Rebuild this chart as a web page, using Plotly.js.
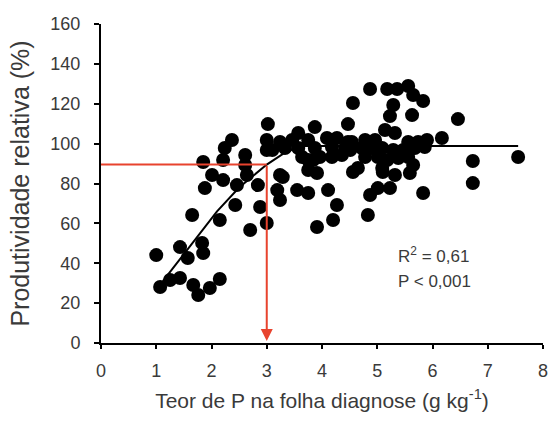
<!DOCTYPE html>
<html>
<head>
<meta charset="utf-8">
<script src="https://cdn.plot.ly/plotly-3.0.1.min.js"></script>
<style>html,body{margin:0;padding:0;background:#fff;}#chart{width:550px;height:421px;}</style>
</head>
<body>
<div id="chart"></div>
<script>
// Observed points: P leaf content (g/kg) and relative yield (%)
const teorP = [
  1.00,1.07,1.25,1.43,1.67,1.76,1.97,2.15,1.43,1.57,1.83,1.85,1.65,2.15,2.70,2.43,2.88,3.00,
  1.88,2.01,2.21,2.46,2.64,2.84,1.85,2.21,2.61,2.61,2.37,2.24,3.02,3.00,3.00,
  3.19,3.24,3.24,3.55,3.75,3.91,3.75,3.91,3.29,4.11,4.27,4.20,4.56,5.10,4.87,5.01,5.23,4.83,
  5.83,6.73,6.73,7.55,6.46,6.17,5.59,5.65,4.65,5.32,
  3.24,3.46,3.57,3.75,3.87,4.09,4.27,4.47,4.47,3.10,3.33,3.57,3.87,4.18,4.42,3.64,3.75,3.96,4.18,4.36,
  5.23,5.63,5.14,5.32,4.54,4.78,4.96,5.56,5.74,5.90,4.51,4.72,4.90,5.09,5.29,5.47,5.68,5.86,
  4.78,5.01,5.18,5.38,5.56,5.09,
  4.87,5.18,5.36,5.56,5.65,5.83,4.56,5.29,3.84
];
const produtividade = [
  44.1,28.1,31.6,32.6,29.1,24.1,27.6,32.1,48.1,42.6,50.2,45.1,64.2,61.7,56.7,69.2,68.2,60.2,
  77.7,84.3,81.7,79.2,84.3,79.2,90.8,91.8,94.3,89.3,101.8,97.8,109.8,101.8,96.8,
  76.7,84.3,71.7,76.7,75.2,58.2,86.8,85.3,83.2,76.7,69.2,61.7,85.8,85.8,74.2,77.7,77.7,64.2,
  75.2,80.2,91.3,93.3,112.3,102.8,85.3,89.3,87.8,84.3,
  100.8,101.8,105.3,101.8,108.3,102.8,102.8,100.8,109.8,96.8,97.8,97.8,97.8,98.3,97.8,93.3,91.8,93.3,93.3,94.3,
  113.8,114.3,106.8,105.3,100.8,101.8,101.8,100.8,100.8,101.8,96.8,97.8,97.8,97.8,96.8,96.8,97.8,98.3,
  93.3,93.3,91.8,92.8,93.3,87.8,
  127.4,127.4,127.4,128.9,124.4,121.4,120.4,119.4,91.8
];
// Fitted response curve
const curvaX = [1.12, 1.6, 2.1, 2.5, 3.0, 3.3, 3.6, 7.55];
const curvaY = [31, 48, 66, 78, 89.5, 95, 98.8, 98.8];
// Critical level guide
const nivelCriticoX = [0, 3, 3];
const nivelCriticoY = [89.5, 89.5, 1];

const xTicks = [0,1,2,3,4,5,6,7,8];
const yTicks = [0,20,40,60,80,100,120,140,160];

const txtColor = '#3a3a3a';
const fontFam = 'Liberation Sans, Arial, sans-serif';

const traces = [
  {x: teorP, y: produtividade, type: 'scatter', mode: 'markers',
   marker: {color: '#000', size: 14}, showlegend: false, hoverinfo: 'x+y'},
  {x: curvaX, y: curvaY, type: 'scatter', mode: 'lines',
   line: {color: '#000', width: 2}, showlegend: false},
  {x: nivelCriticoX.slice(0,2), y: nivelCriticoY.slice(0,2), type: 'scatter', mode: 'lines',
   line: {color: '#e8432e', width: 2}, showlegend: false}
];

const layout = {
  width: 550, height: 421,
  margin: {l: 101, r: 7, t: 24, b: 78},
  paper_bgcolor: '#fff', plot_bgcolor: '#fff',
  font: {family: fontFam, color: txtColor, size: 17},
  xaxis: {
    range: [0, 8], tickvals: xTicks, ticktext: xTicks.map(String),
    showgrid: false, zeroline: false, showline: true, linecolor: '#000', linewidth: 2,
    ticks: 'outside', ticklen: 4, tickwidth: 2, tickcolor: '#000',
    ticklabelstandoff: 6,
    tickfont: {size: 18, color: txtColor},
    title: {text: 'Teor de P na folha diagnose (g kg<sup>-1</sup>)', font: {size: 21, color: txtColor}, standoff: 14}
  },
  yaxis: {
    range: [0, 160], tickvals: yTicks, ticktext: yTicks.map(String),
    showgrid: false, zeroline: false, showline: true, linecolor: '#000', linewidth: 2,
    ticks: 'outside', ticklen: 5, tickwidth: 2, tickcolor: '#000',
    ticklabelstandoff: 10,
    tickfont: {size: 18, color: txtColor},
    title: {text: 'Produtividade relativa (%)', font: {size: 25, color: txtColor}, standoff: 14}
  },
  annotations: [
    {x: nivelCriticoX[2], y: nivelCriticoY[2], ax: nivelCriticoX[1], ay: nivelCriticoY[1],
     xref: 'x', yref: 'y', axref: 'x', ayref: 'y', text: '', showarrow: true,
     arrowhead: 2, arrowsize: 1.2, arrowwidth: 2, arrowcolor: '#e8432e'},
    {x: 5.34, y: 44.1, xref: 'x', yref: 'y', xanchor: 'left', yanchor: 'middle', showarrow: false,
     text: 'R<sup>2</sup> = 0,61', font: {size: 17, color: txtColor}},
    {x: 5.34, y: 30.6, xref: 'x', yref: 'y', xanchor: 'left', yanchor: 'middle', showarrow: false,
     text: 'P < 0,001', font: {size: 17, color: txtColor}}
  ]
};

Plotly.newPlot('chart', traces, layout, {displayModeBar: false, staticPlot: true});
</script>
</body>
</html>
